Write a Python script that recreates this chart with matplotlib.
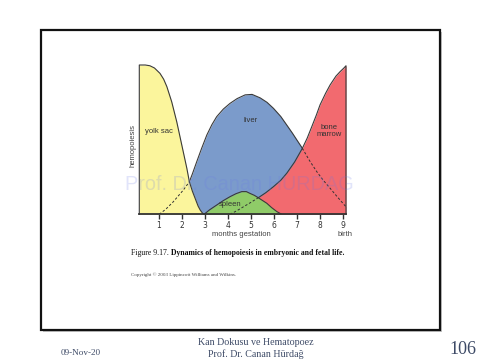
#!/usr/bin/env python3
"""Hemopoiesis sites across gestation, slide reproduction."""

import numpy as np
import matplotlib.pyplot as plt
from matplotlib.patches import Rectangle

# months gestation vs relative hemopoietic activity
yolk_x = [0.14, 0.40, 0.60, 0.80, 1.04, 1.20, 1.34, 1.55, 1.77, 1.99, 2.21, 2.32,
          2.45, 2.57, 2.70, 2.79, 2.90, 2.96]
yolk_y = [1.0, 1.0, 0.995, 0.98, 0.944, 0.905, 0.855, 0.754, 0.62, 0.464, 0.308, 0.218,
          0.155, 0.107, 0.055, 0.029, 0.006, 0.0]

liver_x = [1.01, 1.30, 1.62, 2.06, 2.32, 2.45, 2.64, 2.85, 3.08, 3.30, 3.51, 3.80, 4.09,
           4.40, 4.75, 5.05, 5.40, 5.70, 5.98, 6.30, 6.56, 6.80, 7.00, 7.24, 7.55, 7.87,
           8.15, 8.45, 8.70, 8.88, 9.14]
liver_y = [0.0, 0.035, 0.084, 0.163, 0.218, 0.27, 0.352, 0.44, 0.531, 0.60, 0.654, 0.705,
           0.743, 0.775, 0.80, 0.803, 0.78, 0.75, 0.71, 0.655, 0.598, 0.545, 0.498, 0.442,
           0.36, 0.285, 0.228, 0.174, 0.128, 0.096, 0.05]

marrow_x = [4.09, 4.40, 4.67, 5.00, 5.32, 5.65, 5.98, 6.30, 6.56, 6.90, 7.24, 7.45, 7.65,
            7.85, 8.01, 8.25, 8.45, 8.70, 8.88, 9.05, 9.14]
marrow_y = [0.0, 0.025, 0.05, 0.08, 0.111, 0.145, 0.185, 0.228, 0.275, 0.35, 0.442, 0.51,
            0.587, 0.665, 0.733, 0.81, 0.867, 0.925, 0.955, 0.98, 0.995]

spleen_x = [2.96, 3.20, 3.51, 3.80, 4.09, 4.35, 4.60, 4.80, 4.96, 5.15, 5.32, 5.50, 5.69,
            5.90, 6.13, 6.34]
spleen_y = [0.0, 0.03, 0.062, 0.092, 0.118, 0.138, 0.152, 0.152, 0.14, 0.127, 0.111, 0.093,
            0.074, 0.045, 0.018, 0.0]

# where the hidden parts of the curves are drawn dashed
liver_hidden_left = 2.32
liver_hidden_right = 7.24
marrow_hidden = 5.32

months = [1, 2, 3, 4, 5, 6, 7, 8, 9]

W, H = 480, 360


def fx(px):
    return px / W


def fy(py):
    return 1 - py / H


fig = plt.figure(figsize=(4.8, 3.6), dpi=100)
fig.patch.set_facecolor("white")

# slide frame with a soft shadow on the right and bottom
fig.patches.append(Rectangle((fx(43), fy(331.5)), fx(398.5), (329.5 - 30) / H,
                             transform=fig.transFigure, facecolor="#c4c4c4",
                             edgecolor="none", zorder=-3))
fig.patches.append(Rectangle((fx(41), fy(329.5)), fx(398.5), (329.5 - 30) / H,
                             transform=fig.transFigure, facecolor="white",
                             edgecolor="#111111", linewidth=1.6, zorder=-2))

ax = fig.add_axes([fx(139.3), fy(214.3), fx(346 - 139.3), (214.3 - 65) / H])
ax.set_xlim(0.14, 9.14)
ax.set_ylim(0, 1.0)
ax.patch.set_alpha(0)

edge = "#3a3a3a"
lw = 0.8

lx, ly = np.array(liver_x), np.array(liver_y)
ax.fill_between(lx, 0, ly, color="#7b9bcb", zorder=1, linewidth=0)
ax.plot(lx, ly, color=edge, lw=lw, zorder=1.1)

mx, my = np.array(marrow_x), np.array(marrow_y)
ax.fill_between(mx, 0, my, color="#f26a6f", zorder=2, linewidth=0)
ax.plot(np.append(mx, mx[-1]), np.append(my, 0), color=edge, lw=lw, zorder=2.1,
        clip_on=False)

sx, sy = np.array(spleen_x), np.array(spleen_y)
ax.fill_between(sx, 0, sy, color="#8fcb68", zorder=3, linewidth=0)
ax.plot(sx, sy, color=edge, lw=lw, zorder=3.1)

yx, yy = np.array(yolk_x), np.array(yolk_y)
ax.fill_between(yx, 0, yy, color="#fbf59c", zorder=4, linewidth=0)
ax.plot(np.insert(yx, 0, yx[0]), np.insert(yy, 0, 0), color=edge, lw=lw, zorder=4.1,
        clip_on=False)

# dashed continuations behind other organs
m = lx <= liver_hidden_left
ax.plot(lx[m], ly[m], color="#333333", lw=0.7, ls=(0, (2.5, 2)), zorder=5)
m = lx >= liver_hidden_right
ax.plot(lx[m], ly[m], color="#333333", lw=0.7, ls=(0, (2.5, 2)), zorder=5)
m = mx <= marrow_hidden
ax.plot(mx[m], my[m], color="#333333", lw=0.7, ls=(0, (2.5, 2)), zorder=5)

for side in ("top", "right", "left"):
    ax.spines[side].set_visible(False)
ax.spines["bottom"].set_color("#333333")
ax.spines["bottom"].set_linewidth(1.3)
ax.spines["bottom"].set_zorder(6)
ax.set_yticks([])
ax.set_xticks(months)
ax.set_xticklabels([str(v) for v in months])
ax.tick_params(axis="x", direction="out", length=3.5, width=1.0, color="#333333",
               labelsize=5.5, labelcolor="#333333", pad=1.5)

sans = ["Liberation Sans", "DejaVu Sans"]
serif = ["Liberation Serif", "DejaVu Serif"]

ax.text(1.0, 0.555, "yolk sac", fontsize=5.5, family=sans, color="#333333",
        ha="center", va="center", zorder=7)
ax.text(5.0, 0.625, "liver", fontsize=5.5, family=sans, color="#333333",
        ha="center", va="center", zorder=7)
ax.text(8.4, 0.56, "bone\nmarrow", fontsize=5.5, family=sans, color="#333333",
        ha="center", va="center", linespacing=1.0, zorder=7)
ax.text(4.1, 0.063, "spleen", fontsize=5.5, family=sans, color="#333333",
        ha="center", va="center", zorder=7)

fig.text(fx(133.3), fy(145.7), "hemopoiesis", rotation=90, fontsize=5.5, family=sans,
         color="#444444", ha="center", va="center")
fig.text(fx(241.8), fy(234), "months gestation", fontsize=5.5, family=sans,
         color="#444444", ha="center", va="center")
fig.text(fx(345), fy(234), "birth", fontsize=5.5, family=sans, color="#444444",
         ha="center", va="center")

# watermark
fig.text(fx(239.5), fy(184), "Prof. Dr. Canan HURDAG", fontsize=14.3, family=sans,
         color="#6a78e6", alpha=0.2, ha="center", va="center", zorder=10)

# caption
t1 = fig.text(fx(131), fy(252.7), "Figure 9.17. ", fontsize=5.6, family=serif,
              color="#111111", ha="left", va="center")
fig.canvas.draw()
bb = t1.get_window_extent()
fig.text(bb.x1 / W, fy(252.7), "Dynamics of hemopoiesis in embryonic and fetal life.",
         fontsize=5.6, family=serif, weight="bold", color="#111111",
         ha="left", va="center")
fig.text(fx(131), fy(274.3), "Copyright \u00a9 2003 Lippincott Williams and Wilkins.",
         fontsize=3.6, family=serif, color="#444444", ha="left", va="center")

# footer
foot = "#3d4a66"
fig.text(fx(81), fy(353), "09-Nov-20", fontsize=6.6, family=serif, color=foot,
         ha="center", va="center")
fig.text(fx(256), fy(342.7), "Kan Dokusu ve Hematopoez", fontsize=7.2, family=serif,
         color=foot, ha="center", va="center")
fig.text(fx(256), fy(354), "Prof. Dr. Canan Hürdağ", fontsize=7.2, family=serif,
         color=foot, ha="center", va="center")
fig.text(fx(462.5), fy(349.3), "106", fontsize=13, family=serif, color=foot,
         ha="center", va="center")

fig.savefig("out.png", dpi=100)
